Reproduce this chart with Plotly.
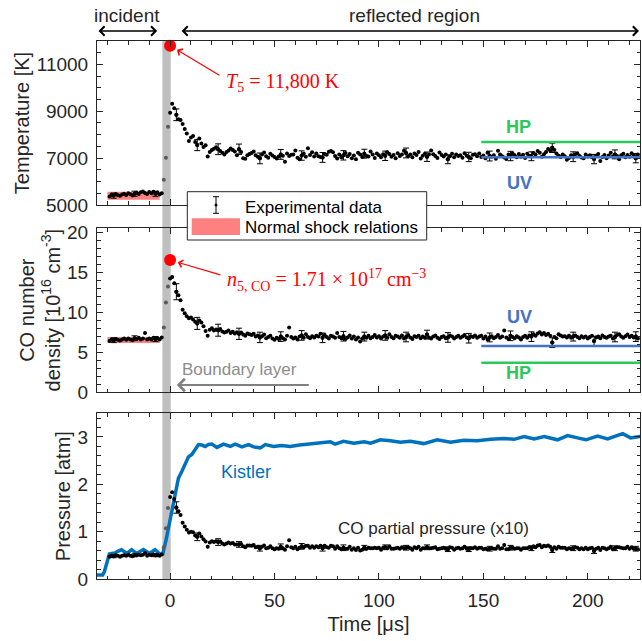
import plotly.graph_objects as go

# ---------------- data ----------------
time_us = list(range(-29, 225))  # 1-us sampling of the measurement

temperature_K = [
    5360, 5440, 5400, 5470, 5420, 5390, 5450, 5480,
    5430, 5500, 5460, 5410, 5480, 5520, 5470, 5540, 5580, 5510,
    5470, 5550, 5500, 5560, 5480, 5530, 5450, 5500, 6080, 7020,
    8340, 8940, 9320, 9130, 8850, 8660, 8630, 8455, 8240, 8050,
    7735, 7880, 7940, 7690, 7560, 7840, 7620, 7475, 7550, 7070,
    7260, 7350, 7400, 7460, 7380, 7300, 7230, 7150, 7260, 7330,
    7410, 7350, 7280, 7120, 7380, 7260, 7000, 6970, 7120, 7180,
    7220, 7280, 7120, 7060, 6990, 7150, 7240, 7080, 7020, 7190,
    7110, 7050, 6980, 7070, 7160, 7100, 6850, 7200, 7090, 7140,
    7160, 7330, 7020, 6950, 7110, 7190, 7060, 7420, 7130, 7250,
    7070, 7200, 7080, 7050, 7030, 7180, 7140, 7270, 7300, 7250,
    7090, 6980, 7150, 7040, 7120, 7220, 7080, 7180, 7000, 7110,
    6950, 7230, 7160, 7050, 7190, 7090, 7070, 7280, 7150, 7010,
    7200, 7120, 7040, 7170, 7100, 7250, 7180, 7060, 7130, 7000,
    7210, 7090, 7150, 7310, 7220, 7080, 7160, 7040, 7200, 7130,
    7260, 6980, 7100, 7190, 7060, 7150, 7330, 7170, 7090, 7010,
    7240, 7130, 7070, 7150, 6950, 7080, 7190, 7040, 7160, 7090,
    7120, 7020, 7210, 7100, 7050, 6990, 7140, 7170, 7080, 7200,
    7050, 7110, 7000, 7230, 7090, 7060, 7120, 6970, 7310, 7160,
    7080, 7030, 6960, 7150, 7090, 7200, 7120, 7040, 7180, 7060,
    7140, 7010, 7190, 7100, 7080, 7220, 7150, 7300, 7230, 7060,
    7170, 7260, 7390, 7320, 7440, 7350, 7200, 7100, 7050, 7150,
    7080, 6930, 7010, 7120, 7060, 7170, 7210, 7090, 7030, 6990,
    7150, 7070, 7120, 7040, 6960, 7100, 7180, 6880, 7050, 7130,
    7000, 7110, 7230, 7070, 7160, 7090, 6950, 7120, 7190, 7040,
    7130, 7060, 7210, 7100, 7000, 7150,
]

n_co = [  # 10^16 cm^-3
    6.40, 6.60, 6.50, 6.65, 6.55, 6.45, 6.60, 6.70,
    6.55, 6.70, 6.60, 6.50, 6.75, 6.65, 6.80, 6.60, 6.70, 7.40,
    6.60, 6.70, 6.60, 6.80, 6.65, 6.75, 6.60, 6.85, 8.10, 11.20,
    13.20, 14.20, 14.40, 13.60, 12.55, 12.10, 11.50, 10.30, 9.85, 9.50,
    9.25, 9.35, 9.10, 8.80, 8.60, 8.95, 8.70, 8.25, 7.65, 7.05,
    7.80, 8.00, 7.70, 7.85, 7.75, 7.90, 7.60, 7.45, 7.55, 7.70,
    7.40, 7.55, 7.35, 7.50, 7.30, 7.45, 7.20, 7.05, 7.35, 7.25,
    7.15, 7.30, 6.95, 7.10, 6.85, 7.00, 7.20, 6.75, 6.90, 7.05,
    6.70, 6.55, 6.80, 6.65, 6.95, 6.75, 6.60, 7.05, 8.10, 6.90,
    6.70, 6.85, 6.60, 6.95, 7.10, 6.80, 7.25, 6.90, 6.75, 7.00,
    6.85, 7.05, 6.95, 7.30, 6.80, 7.15, 6.90, 6.70, 7.05, 6.95,
    6.80, 7.40, 6.90, 6.75, 7.00, 6.65, 6.85, 7.10, 6.70, 6.95,
    6.60, 6.85, 6.35, 6.70, 6.95, 6.80, 7.05, 6.75, 6.90, 7.15,
    6.85, 7.00, 6.70, 6.95, 7.10, 6.80, 7.25, 6.90, 6.75, 7.05,
    6.95, 6.80, 7.10, 6.70, 6.90, 7.15, 6.85, 6.65, 7.00, 6.90,
    7.05, 6.75, 6.95, 6.80, 7.20, 6.85, 6.70, 6.95, 7.10, 6.80,
    6.65, 6.90, 7.00, 6.75, 6.85, 7.10, 6.95, 6.70, 6.90, 7.05,
    6.80, 6.95, 7.15, 6.85, 6.75, 7.00, 6.90, 7.10, 6.80, 6.95,
    7.05, 6.70, 6.95, 6.60, 6.85, 7.00, 6.75, 6.90, 7.15, 6.80,
    6.95, 7.70, 6.85, 6.65, 7.05, 6.90, 6.75, 7.00, 6.85, 6.60,
    6.90, 7.05, 6.80, 7.10, 6.95, 7.25, 7.05, 7.35, 7.50, 7.20,
    7.40, 7.15, 7.30, 7.05, 6.20, 6.90, 6.75, 7.25, 7.10, 6.95,
    7.00, 6.85, 7.05, 6.80, 6.95, 7.10, 6.90, 6.75, 7.00, 6.85,
    6.95, 6.70, 6.90, 7.05, 6.40, 6.85, 6.95, 6.75, 7.10, 6.90,
    6.80, 6.95, 7.05, 6.70, 6.90, 7.15, 7.25, 6.95, 6.80, 7.00,
    7.20, 6.90, 7.05, 6.85, 6.95, 6.70,
]

p_co_x10 = [  # atm, multiplied by 10
    0.47, 0.49, 0.48, 0.50, 0.49, 0.47, 0.49, 0.50,
    0.49, 0.51, 0.49, 0.48, 0.50, 0.50, 0.51, 0.50, 0.51, 0.55,
    0.49, 0.51, 0.50, 0.52, 0.50, 0.51, 0.49, 0.52, 0.67, 1.07,
    1.50, 1.73, 1.83, 1.69, 1.51, 1.43, 1.35, 1.19, 1.11, 1.04,
    0.98, 1.00, 0.99, 0.92, 0.89, 0.96, 0.90, 0.84, 0.79, 0.68,
    0.77, 0.80, 0.78, 0.80, 0.78, 0.79, 0.75, 0.73, 0.75, 0.77,
    0.75, 0.76, 0.73, 0.73, 0.73, 0.74, 0.69, 0.67, 0.71, 0.71,
    0.70, 0.72, 0.67, 0.68, 0.65, 0.68, 0.71, 0.65, 0.66, 0.69,
    0.65, 0.63, 0.65, 0.64, 0.68, 0.65, 0.62, 0.69, 0.82, 0.67,
    0.65, 0.68, 0.63, 0.66, 0.69, 0.67, 0.70, 0.70, 0.66, 0.69,
    0.66, 0.69, 0.67, 0.70, 0.65, 0.70, 0.67, 0.66, 0.70, 0.69,
    0.64, 0.69, 0.65, 0.63, 0.66, 0.64, 0.64, 0.68, 0.62, 0.65,
    0.61, 0.66, 0.60, 0.62, 0.66, 0.64, 0.66, 0.65, 0.65, 0.66,
    0.65, 0.66, 0.62, 0.66, 0.67, 0.65, 0.69, 0.64, 0.64, 0.65,
    0.66, 0.64, 0.67, 0.65, 0.66, 0.67, 0.65, 0.62, 0.67, 0.65,
    0.68, 0.62, 0.65, 0.65, 0.67, 0.65, 0.65, 0.66, 0.67, 0.63,
    0.64, 0.65, 0.66, 0.64, 0.63, 0.67, 0.66, 0.62, 0.65, 0.66,
    0.64, 0.65, 0.68, 0.64, 0.63, 0.65, 0.65, 0.67, 0.64, 0.66,
    0.66, 0.63, 0.64, 0.63, 0.64, 0.65, 0.64, 0.64, 0.69, 0.64,
    0.65, 0.72, 0.63, 0.63, 0.66, 0.66, 0.64, 0.65, 0.65, 0.62,
    0.65, 0.65, 0.65, 0.67, 0.65, 0.69, 0.67, 0.71, 0.72, 0.67,
    0.70, 0.69, 0.71, 0.68, 0.61, 0.67, 0.64, 0.68, 0.66, 0.66,
    0.66, 0.63, 0.65, 0.64, 0.65, 0.67, 0.66, 0.63, 0.65, 0.63,
    0.66, 0.63, 0.65, 0.66, 0.59, 0.64, 0.66, 0.61, 0.66, 0.65,
    0.63, 0.65, 0.68, 0.63, 0.65, 0.67, 0.67, 0.66, 0.65, 0.65,
    0.68, 0.64, 0.67, 0.64, 0.64, 0.63,
]

err_time_us = [-27, -17, -7, 3, 13, 23, 33, 43, 53, 63, 73, 83, 93, 103,
               113, 123, 133, 143, 153, 163, 173, 183, 193, 203, 213, 223]
temperature_err = [110, 110, 110, 250, 240, 230, 220, 230, 210, 200, 210, 200, 190,
                   200, 210, 200, 190, 200, 210, 200, 190, 200, 210, 200, 190, 200]
n_co_err = [0.3, 0.3, 0.3, 1.0, 0.75, 0.75, 0.7, 0.65, 0.6, 0.6, 0.6, 0.6, 0.55,
            0.6, 0.6, 0.55, 0.6, 0.6, 0.55, 0.6, 0.6, 0.6, 0.55, 0.6, 0.6, 0.6]
p_co_err = [0.03, 0.03, 0.03, 0.12, 0.08, 0.07, 0.06, 0.06, 0.06, 0.06, 0.06, 0.06, 0.05,
            0.05, 0.05, 0.05, 0.05, 0.05, 0.05, 0.05, 0.05, 0.05, 0.05, 0.05, 0.05, 0.05]

kistler_t = [-35, -32.3, -31.5, -30.7, -29.8, -29.1, -28, -26.4, -24.8, -23.2, -22, -20.8,
             -19.6, -18.4, -17.2, -16, -14.4, -12.8, -11.3, -9.9, -8.5, -7.2, -6, -4.8,
             -3.5, -2.7, -1.9, -1, 0, 0.8, 1.6, 2.2, 2.9, 4.0, 5.6, 7.2, 8.8, 10.4, 12,
             13.6, 15.2, 16.8, 18.4, 20, 22.4, 25.6, 28.8, 31.2, 34.4, 37.6, 40, 43.2,
             45.6, 49.5, 53.5, 57.5, 62, 67, 72, 76.7, 79, 83, 88, 92.9, 96, 100.7, 105.5,
             110.3, 115, 121.5, 127.9, 134.3, 140.7, 147, 153.5, 159.9, 164.7, 169.5,
             174.3, 179.1, 185.5, 190.3, 195.1, 199.1, 204.7, 209.5, 216.7, 220.5, 225.3]
kistler_p = [0.085, 0.085, 0.15, 0.26, 0.42, 0.53, 0.54, 0.55, 0.59, 0.62, 0.58, 0.54,
             0.58, 0.62, 0.58, 0.54, 0.58, 0.62, 0.58, 0.54, 0.58, 0.62, 0.57, 0.52,
             0.53, 0.66, 0.83, 1.03, 1.25, 1.46, 1.67, 1.80, 1.92, 2.13, 2.27, 2.42, 2.58,
             2.63, 2.75, 2.84, 2.83, 2.80, 2.84, 2.85, 2.78, 2.85, 2.80, 2.85, 2.79, 2.84,
             2.79, 2.77, 2.84, 2.80, 2.82, 2.80, 2.83, 2.85, 2.87, 2.90, 2.85, 2.91, 2.87,
             2.90, 2.87, 2.94, 2.92, 2.89, 2.91, 2.86, 2.94, 2.89, 2.93, 2.92, 2.95, 2.97,
             2.95, 3.01, 2.96, 3.01, 2.94, 3.03, 2.98, 2.94, 3.02, 2.96, 3.07, 2.98, 3.01]

shock_t = [-30, -5]
shock_T = [5220, 5570]
shock_n = [6.15, 6.90]

model_t = [149, 225]
T_HP, T_UV = 7690, 7040
n_HP, n_UV = 3.69, 5.78

T5_K = 11800
n5_co = 16.5
band_t = [-3.7, 0.3]

# ---------------- styling ----------------
FONT = "Liberation Sans, Arial, sans-serif"
SERIF = "Liberation Serif, Times New Roman, serif"
AX = "#262626"
RED = "#FF0000"
SHOCK = "#FF8080"
KIST = "#0072BD"
GREEN = "#2BC85A"
BLUE = "#4472C4"

dot_colors = ["#5a5a5a" if band_t[0] < t < -0.5 else "black" for t in time_us]
err_idx = [time_us.index(t) for t in err_time_us]

fig = go.Figure()


def add_panel(xa, ya, vals, errs, shock=None):
    if shock is not None:
        fig.add_trace(go.Scatter(
            x=[shock_t[0], shock_t[1], shock_t[1], shock_t[0], shock_t[0]],
            y=[shock[0], shock[0], shock[1], shock[1], shock[0]],
            fill="toself", fillcolor=SHOCK, mode="lines", line=dict(width=0),
            xaxis=xa, yaxis=ya, hoverinfo="skip"))
    fig.add_trace(go.Scatter(x=time_us, y=vals, mode="markers",
                             marker=dict(size=4, color=dot_colors),
                             xaxis=xa, yaxis=ya))
    fig.add_trace(go.Scatter(x=err_time_us, y=[vals[i] for i in err_idx], mode="markers",
                             marker=dict(size=4, color="black"),
                             error_y=dict(type="data", array=errs, color="black",
                                          thickness=1, width=3),
                             xaxis=xa, yaxis=ya))


# panel 1: temperature
add_panel("x", "y", temperature_K, temperature_err, shock_T)
fig.add_trace(go.Scatter(x=model_t, y=[T_HP, T_HP], mode="lines",
                         line=dict(color=GREEN, width=2.5), xaxis="x", yaxis="y"))
fig.add_trace(go.Scatter(x=model_t, y=[T_UV, T_UV], mode="lines",
                         line=dict(color=BLUE, width=2.5), xaxis="x", yaxis="y"))
fig.add_trace(go.Scatter(x=[0], y=[T5_K], mode="markers", cliponaxis=False,
                         marker=dict(size=12, color=RED), xaxis="x", yaxis="y"))

# panel 2: CO number density
add_panel("x2", "y2", n_co, n_co_err, shock_n)
fig.add_trace(go.Scatter(x=model_t, y=[n_UV, n_UV], mode="lines",
                         line=dict(color=BLUE, width=2.5), xaxis="x2", yaxis="y2"))
fig.add_trace(go.Scatter(x=model_t, y=[n_HP, n_HP], mode="lines",
                         line=dict(color=GREEN, width=2.5), xaxis="x2", yaxis="y2"))
fig.add_trace(go.Scatter(x=[0], y=[n5_co], mode="markers", cliponaxis=False,
                         marker=dict(size=12, color=RED), xaxis="x2", yaxis="y2"))

# panel 3: pressure
fig.add_trace(go.Scatter(x=kistler_t, y=kistler_p, mode="lines",
                         line=dict(color=KIST, width=3.5), xaxis="x3", yaxis="y3"))
add_panel("x3", "y3", p_co_x10, p_co_err)


def xaxis(anchor, labels, title=None):
    d = dict(range=[-35, 225], anchor=anchor, domain=[0, 1], showticklabels=labels,
             automargin=False,
             tickmode="linear", tick0=0, dtick=50, ticks="inside", ticklen=6,
             tickwidth=1, tickcolor=AX,
             minor=dict(ticks="inside", ticklen=3.5, tickwidth=1, tickcolor=AX,
                        tickmode="linear", tick0=0, dtick=10, showgrid=False),
             showline=True, linecolor=AX, linewidth=1, mirror="allticks",
             showgrid=False, zeroline=False,
             tickfont=dict(family=FONT, size=19, color=AX), ticklabelstandoff=4)
    if title:
        d["title"] = dict(text=title, font=dict(family=FONT, size=20, color=AX), standoff=7)
    if anchor != "y":
        d["matches"] = "x"
    return d


def yaxis(anchor, domain, rng, dtick, tick0, mdtick, title):
    return dict(range=rng, anchor=anchor, domain=domain, tickmode="linear",
                automargin=False, tickformat="d",
                tick0=tick0, dtick=dtick, ticks="inside", ticklen=6, tickwidth=1,
                tickcolor=AX,
                minor=dict(ticks="inside", ticklen=3.5, tickwidth=1, tickcolor=AX,
                           tickmode="linear", tick0=tick0, dtick=mdtick, showgrid=False),
                showline=True, linecolor=AX, linewidth=1, mirror="allticks",
                showgrid=False, zeroline=False,
                tickfont=dict(family=FONT, size=19, color=AX), ticklabelstandoff=4,
                title=dict(text=title, font=dict(family=FONT, size=20, color=AX), standoff=1))


W, H = 642, 641
ML, MR, MT, MB = 97, 2, 41, 62
PW, PH = W - ML - MR, H - MT - MB


def px_x(p):
    return (p - ML) / PW


def px_y(p):
    return (H - MB - p) / PH


shapes = [
    dict(type="rect", xref="x", yref="paper", x0=band_t[0], x1=band_t[1], y0=0, y1=1,
         fillcolor="#BFBFBF", line=dict(width=0), layer="below"),
    # legend box
    dict(type="rect", xref="paper", yref="paper", x0=px_x(187.3), x1=px_x(426.7),
         y0=px_y(240), y1=px_y(191.7), fillcolor="white",
         line=dict(color=AX, width=1), layer="above"),
    # legend error-bar glyph
    dict(type="line", xref="paper", yref="paper", x0=px_x(216), x1=px_x(216),
         y0=px_y(196.7), y1=px_y(213.3), line=dict(color="black", width=1), layer="above"),
    dict(type="line", xref="paper", yref="paper", x0=px_x(213), x1=px_x(219),
         y0=px_y(196.7), y1=px_y(196.7), line=dict(color="black", width=1), layer="above"),
    dict(type="line", xref="paper", yref="paper", x0=px_x(213), x1=px_x(219),
         y0=px_y(213.3), y1=px_y(213.3), line=dict(color="black", width=1), layer="above"),
    dict(type="circle", xref="paper", yref="paper", x0=px_x(214.5), x1=px_x(217.5),
         y0=px_y(206.5), y1=px_y(203.5), fillcolor="black", line=dict(width=0), layer="above"),
    # legend shock patch
    dict(type="rect", xref="paper", yref="paper", x0=px_x(191.7), x1=px_x(240),
         y0=px_y(235), y1=px_y(218.3), fillcolor=SHOCK, line=dict(width=0), layer="above"),
]

ann = []


def text(x, y, s, xref, yref, color=AX, size=17, family=FONT, xanchor="center"):
    ann.append(dict(x=x, y=y, xref=xref, yref=yref, text=s, showarrow=False,
                    font=dict(family=family, size=size, color=color),
                    xanchor=xanchor, yanchor="middle"))


def arrow(x, y, ax, ay, xref, yref, color, width, both=False, standoff=0, ayref=None):
    ann.append(dict(x=x, y=y, ax=ax, ay=ay, xref=xref, yref=yref, axref=xref,
                    ayref=ayref or yref, text="", showarrow=True, arrowcolor=color,
                    arrowwidth=width, arrowhead=4, arrowsize=1.2,
                    startarrowhead=4, startarrowsize=1.2,
                    arrowside="end+start" if both else "end", standoff=standoff))


# top region labels
text(-20.8, px_y(16), "incident", "x", "paper", size=19)
text(117, px_y(16), "reflected region", "x", "paper", size=19)
arrow(-6.2, px_y(31), -35, 0, "x", "paper", "black", 1.5, both=True, ayref="pixel")
arrow(224.5, px_y(31), 4.8, 0, "x", "paper", "black", 1.5, both=True, ayref="pixel")

# peak annotations
arrow(0, T5_K, 24.3, 10500, "x", "y", RED, 1.2, standoff=8)
text(25.9, 10214, "<i>T</i><sub>5</sub> = 11,800 K", "x", "y", color=RED, size=20,
     family=SERIF, xanchor="left")
arrow(0, n5_co, 24.8, 14.6, "x2", "y2", RED, 1.2, standoff=8)
text(26.4, 14.0, "<i>n</i><sub>5, CO</sub> = 1.71 × 10<sup>17</sup> cm<sup>−3</sup>",
     "x2", "y2", color=RED, size=20, family=SERIF, xanchor="left")

# model labels
text(167, 8340, "<b>HP</b>", "x", "y", color=GREEN, size=18)
text(167.5, 5920, "<b>UV</b>", "x", "y", color=BLUE, size=18)
text(167.5, 9.43, "<b>UV</b>", "x2", "y2", color=BLUE, size=18)
text(167, 2.37, "<b>HP</b>", "x2", "y2", color=GREEN, size=18)

# boundary layer
text(33.1, 2.87, "Boundary layer", "x2", "y2", color="#8C8C8C", size=17)
arrow(3.2, 0.91, 67.1, 0.91, "x2", "y2", "#808080", 2)

# pressure labels
text(36.4, 2.27, "Kistler", "x3", "y3", color=KIST, size=18)
text(126.1, 1.07, "CO partial pressure (x10)", "x3", "y3", color=AX, size=17)

# legend texts
text(px_x(243.3), px_y(207), "Experimental data", "paper", "paper", color="black",
     size=17, xanchor="left")
text(px_x(243.3), px_y(227.5), "Normal shock relations", "paper", "paper", color="black",
     size=17, xanchor="left")

fig.update_layout(
    width=W, height=H,
    margin=dict(l=ML, r=MR, t=MT, b=MB, autoexpand=False),
    paper_bgcolor="white", plot_bgcolor="rgba(0,0,0,0)",
    showlegend=False,
    font=dict(family=FONT, color=AX),
    xaxis=xaxis("y", False),
    xaxis2=xaxis("y2", False),
    xaxis3=xaxis("y3", True, "Time [μs]"),
    yaxis=yaxis("x", [0.6952, 1.0], [5000, 12000], 2000, 5000, 500, "Temperature [K]"),
    yaxis2=yaxis("x2", [0.347, 0.6524], [0, 20.5], 5, 0, 1,
                 "CO number<br>density [10<sup>16</sup> cm<sup>-3</sup>]"),
    yaxis3=yaxis("x3", [0, 0.308], [0, 3.5], 1, 0, 0.2, "Pressure [atm]"),
    shapes=shapes,
    annotations=ann,
)

fig.write_html(
    "out.html",
    config={"displayModeBar": False},
    post_script="document.body.style.margin='0';document.body.style.padding='0';"
                "document.documentElement.style.overflow='hidden';",
)
